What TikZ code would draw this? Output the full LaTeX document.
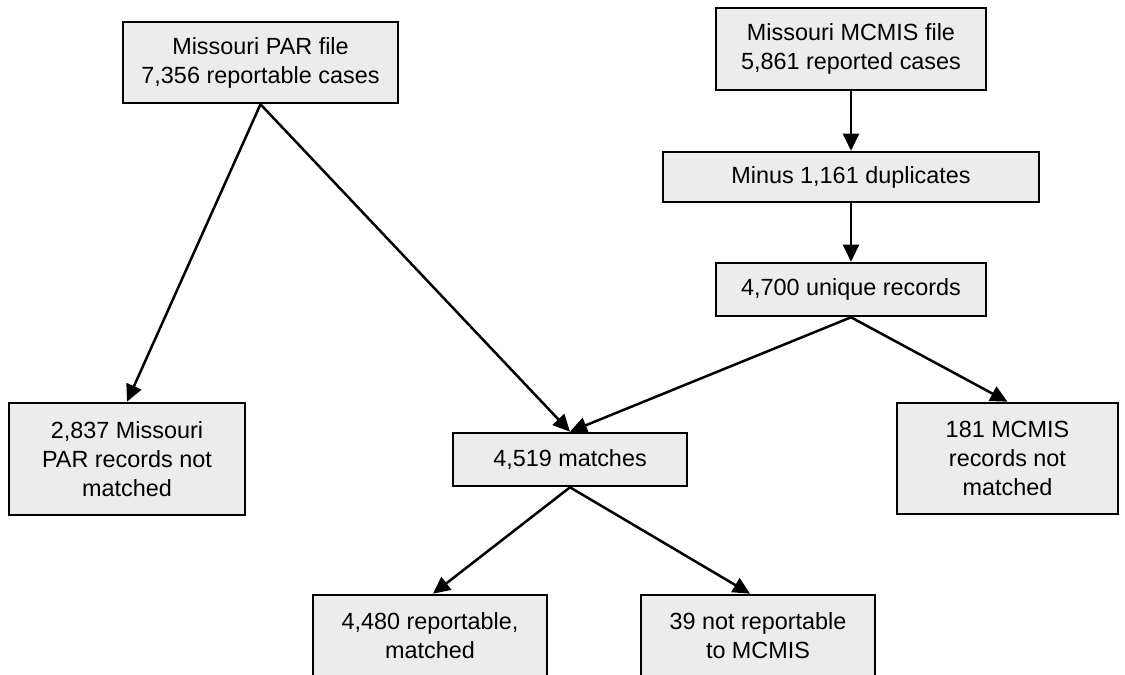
\documentclass[tikz,border=0pt]{standalone}
\usepackage{fontspec}
\setmainfont{Liberation Sans}
\usetikzlibrary{arrows.meta}
\definecolor{boxgray}{RGB}{236,236,236}
\tikzset{
  recbox/.style={draw, line width=2.6pt, fill=boxgray, align=center, inner sep=0pt,
    font=\fontsize{23.4}{29}\selectfont},
  flow/.style={line width=2.5pt, -{Triangle[length=17pt,width=16pt]}}
}
\begin{document}
\begin{tikzpicture}[x=1pt,y=-1pt]
    \useasboundingbox (0,0) rectangle (1125,675);
    % Source files
    \node[recbox, minimum width=275pt, minimum height=81pt] (par) at (260.5,62.5) {Missouri PAR file\\7,356 reportable cases};
    \node[recbox, minimum width=270pt, minimum height=82pt] (mcmis) at (851,49) {Missouri MCMIS file\\5,861 reported cases};
    % MCMIS cleaning
    \node[recbox, minimum width=376pt, minimum height=50pt] (dup) at (851,177) {Minus 1,161 duplicates};
    \node[recbox, minimum width=270pt, minimum height=53pt] (uniq) at (851,289.5) {4,700 unique records};
    % Matching results
    \node[recbox, minimum width=236pt, minimum height=112pt] (nopar) at (127,459) {2,837 Missouri\\PAR records not\\matched};
    \node[recbox, minimum width=234pt, minimum height=53pt] (match) at (570,459.5) {4,519 matches};
    \node[recbox, minimum width=221pt, minimum height=111pt] (nomcmis) at (1007.5,458.5) {181 MCMIS\\records not\\matched};
    \node[recbox, minimum width=234pt, minimum height=82pt] (repmatch) at (430,636) {4,480 reportable,\\matched};
    \node[recbox, minimum width=234pt, minimum height=82pt] (nonrep) at (758,636) {39 not reportable\\to MCMIS};
    % Connectors
    \draw[flow] (par.south) -- (nopar.north);
    \draw[flow] (par.south) -- (match.north);
    \draw[flow] (mcmis.south) -- (dup.north);
    \draw[flow] (dup.south) -- (uniq.north);
    \draw[flow] (uniq.south) -- (match.north);
    \draw[flow] (uniq.south) -- (nomcmis.north);
    \draw[flow] (match.south) -- ([xshift=3pt]repmatch.north);
    \draw[flow] (match.south) -- ([xshift=-8pt]nonrep.north);
\end{tikzpicture}
\end{document}
